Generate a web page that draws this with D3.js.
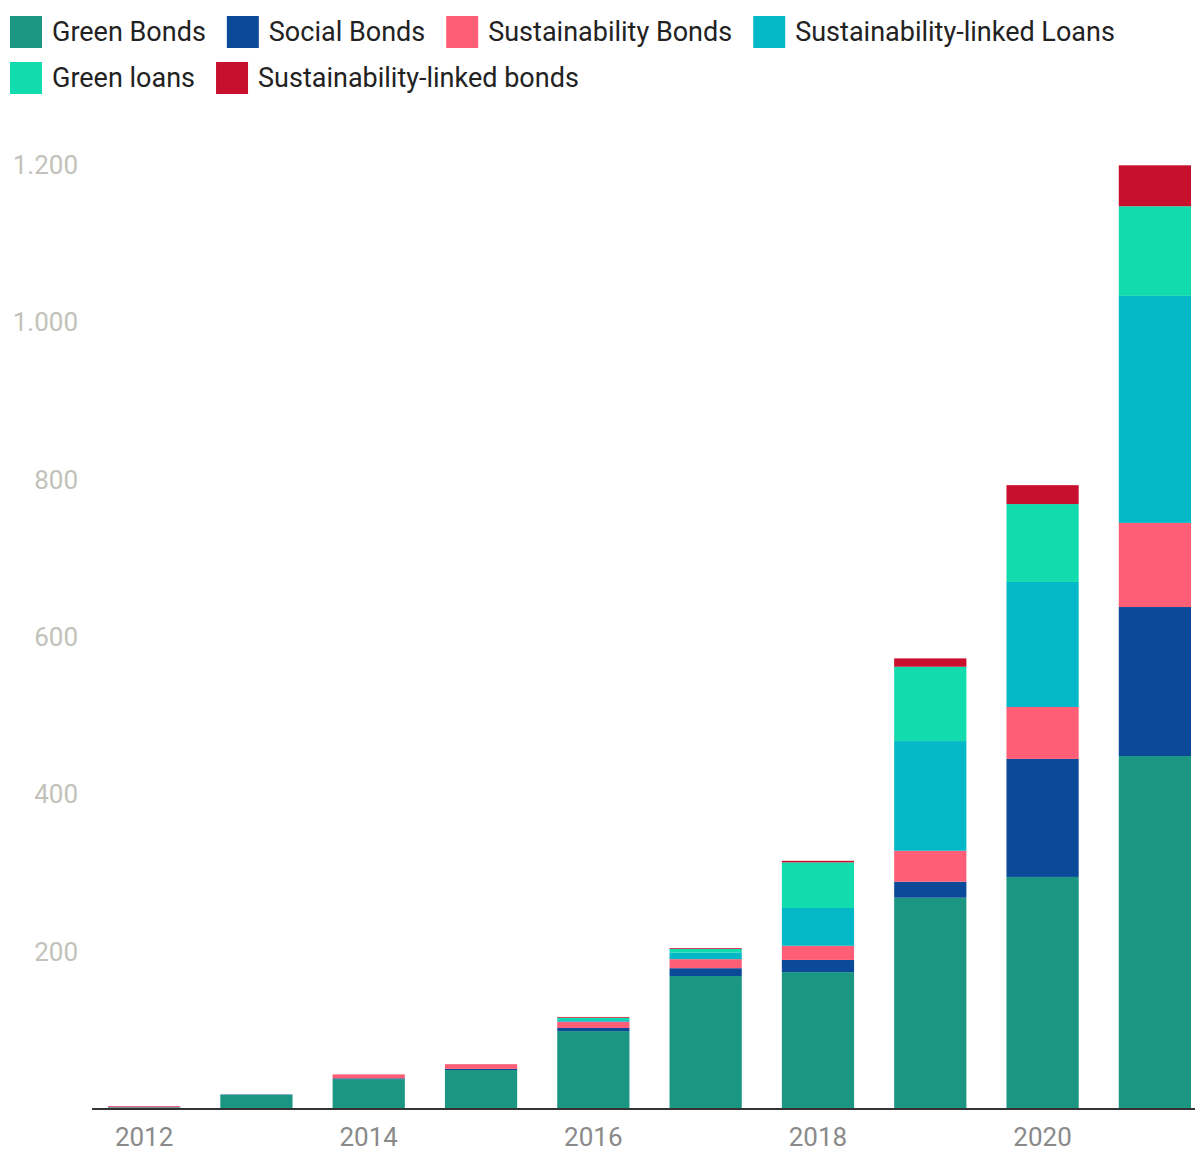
<!DOCTYPE html>
<html>
<head>
<meta charset="utf-8">
<script src="https://cdn.jsdelivr.net/npm/d3@7"></script>
<style>
  html, body { margin: 0; padding: 0; background: #fff; }
  svg { display: block; font-family: Roboto, "Noto Sans", sans-serif; }
</style>
</head>
<body>
<svg id="chart" width="1195" height="1152"></svg>
<script>
const years = [2012, 2013, 2014, 2015, 2016, 2017, 2018, 2019, 2020, 2021];
const seriesNames = ["Green Bonds", "Social Bonds", "Sustainability Bonds", "Sustainability-linked Loans", "Green loans", "Sustainability-linked bonds"];
const seriesColors = ["#1a9683", "#0a4a98", "#fe5f77", "#05b8c8", "#12dbae", "#c8102e"];
const greenBonds      = [2,   18,  38,  49.5, 99,  169,  174,  268.6, 295, 448.7];
const socialBonds     = [0.3, 0.5, 1,   1.5,  4,   10,   15.5, 20.3,  150, 189.4];
const sustBonds       = [1,   0,   5,   6,    8,   11.5, 18,   39.4,  66,  107];
const sustLinkedLoans = [0,   0,   0,   0,    2,   8.5,  48,   139.4, 159, 288.5];
const greenLoans      = [0,   0,   0,   0,    3,   4.5,  58,   94.5,  99,  114];
const sustLinkedBonds = [0.5, 0,   0,   0,    1,   1,    2,    10.6,  24,  52];
const yTicks = [200, 400, 600, 800, 1000, 1200];
const xTickLabels = [2012, 2014, 2016, 2018, 2020];

const seriesValues = [greenBonds, socialBonds, sustBonds, sustLinkedLoans, greenLoans, sustLinkedBonds];
const rows = years.map((y, i) => {
  const r = { year: y };
  seriesNames.forEach((n, k) => r[n] = seriesValues[k][i]);
  return r;
});

const svg = d3.select("#chart");
const x = d3.scaleBand().domain(years).range([108, 1191]).paddingInner(0.357).paddingOuter(0);
const y = d3.scaleLinear().domain([0, 1200]).range([1109, 165]);
const color = d3.scaleOrdinal().domain(seriesNames).range(seriesColors);

const stack = d3.stack().keys(seriesNames);
const stacked = stack(rows);

svg.append("g").selectAll("g").data(stacked).join("g")
  .attr("fill", d => color(d.key))
  .selectAll("rect").data(d => d).join("rect")
  .attr("x", d => x(d.data.year))
  .attr("width", x.bandwidth())
  .attr("y", d => y(d[1]))
  .attr("height", d => Math.max(0, y(d[0]) - y(d[1])));

// baseline
svg.append("line").attr("x1", 92).attr("x2", 1195).attr("y1", y(0)).attr("y2", y(0))
  .attr("stroke", "#333").attr("stroke-width", 2);

// y tick labels
const loc = d3.formatLocale({ decimal: ",", thousands: ".", grouping: [3], currency: ["", ""] });
const fmt = loc.format(",");
svg.append("g").selectAll("text").data(yTicks).join("text")
  .attr("x", 78).attr("y", d => y(d)).attr("dy", "0.35em")
  .attr("text-anchor", "end").attr("fill", "#c2c2ba").attr("font-size", 26)
  .text(d => fmt(d));

// x tick labels
svg.append("g").selectAll("text").data(xTickLabels).join("text")
  .attr("x", d => x(d) + x.bandwidth() / 2).attr("y", 1146)
  .attr("text-anchor", "middle").attr("fill", "#8a8a8a").attr("font-size", 26)
  .text(d => d);

// legend
const legendRows = [[0, 1, 2, 3], [4, 5]];
const legend = svg.append("g");
legendRows.forEach((row, ri) => {
  let cx = 10;
  const cy = 16 + ri * 46;
  row.forEach(k => {
    const g = legend.append("g");
    g.append("rect").attr("x", cx).attr("y", cy).attr("width", 32).attr("height", 32).attr("fill", seriesColors[k]);
    const t = g.append("text").attr("x", cx + 42).attr("y", cy + 16).attr("dy", "0.35em")
      .attr("font-size", 27).attr("fill", "#222").text(seriesNames[k]);
    const w = t.node().getComputedTextLength();
    cx = cx + 42 + w + 21;
  });
});
</script>
</body>
</html>
